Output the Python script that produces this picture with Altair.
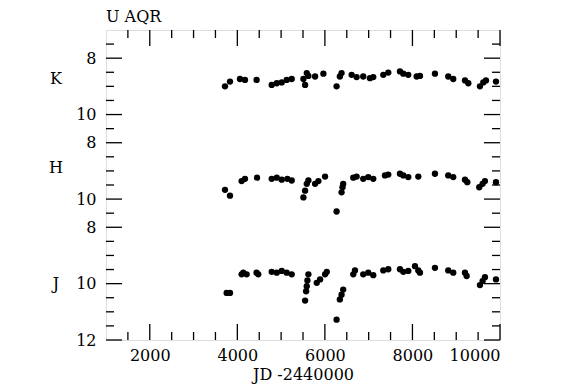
import altair as alt
import pandas as pd

# ---- data (JD - 2440000, magnitude) ----
jd_K = [3718, 3832, 4060, 4175, 4440, 4785, 4900, 5014, 5128, 5242, 5509, 5548, 5586, 5623, 5776, 5966,
        6267, 6342, 6381, 6611, 6725, 6876, 7029, 7105, 7334, 7448, 7715, 7791, 7905, 8096, 8172, 8514,
        8818, 8932, 9200, 9276, 9542, 9618, 9679, 9908]
mag_K = [9.00, 8.83, 8.74, 8.77, 8.77, 8.95, 8.89, 8.86, 8.77, 8.74, 8.74, 8.95, 8.53, 8.63, 8.65, 8.55,
         9.00, 8.65, 8.53, 8.59, 8.67, 8.65, 8.71, 8.67, 8.59, 8.51, 8.47, 8.55, 8.59, 8.65, 8.63, 8.55,
         8.65, 8.74, 8.79, 8.89, 9.00, 8.86, 8.79, 8.83]

jd_H = [3718, 3832, 4098, 4175, 4450, 4785, 4900, 5014, 5143, 5242, 5509, 5548, 5586, 5623, 5776, 5852,
        6004, 6267, 6381, 6403, 6418, 6648, 6725, 6876, 6990, 7105, 7372, 7448, 7715, 7791, 7905, 8134,
        8514, 8818, 8932, 9200, 9253, 9526, 9602, 9656, 9908]
mag_H = [9.67, 9.88, 9.36, 9.28, 9.24, 9.28, 9.24, 9.31, 9.28, 9.34, 9.94, 9.70, 9.46, 9.34, 9.46, 9.36,
         9.20, 10.44, 9.76, 9.58, 9.46, 9.24, 9.20, 9.28, 9.22, 9.28, 9.16, 9.13, 9.10, 9.16, 9.22, 9.20,
         9.10, 9.16, 9.22, 9.31, 9.40, 9.58, 9.46, 9.36, 9.40]

jd_J = [3756, 3832, 4098, 4136, 4212, 4440, 4478, 4785, 4900, 5014, 5128, 5242, 5548, 5571, 5586, 5601,
        5623, 5814, 5890, 6004, 6043, 6267, 6342, 6381, 6418, 6648, 6687, 6876, 6990, 7105, 7334, 7448,
        7715, 7791, 7905, 8058, 8134, 8172, 8514, 8818, 8932, 9200, 9238, 9542, 9602, 9656, 9908]
mag_J = [10.33, 10.33, 9.67, 9.61, 9.67, 9.61, 9.67, 9.58, 9.61, 9.55, 9.61, 9.67, 10.60, 10.27, 10.09, 9.89,
         9.67, 9.97, 9.85, 9.67, 9.58, 11.28, 10.56, 10.39, 10.21, 9.67, 9.53, 9.67, 9.61, 9.70, 9.53, 9.49,
         9.49, 9.58, 9.55, 9.38, 9.53, 9.61, 9.44, 9.53, 9.61, 9.61, 9.73, 10.05, 9.91, 9.77, 9.85]

bands = ["K", "H", "J"]
band_offset = [7, 4, 1]          # stacking offset of each band on the shared axis
band_label_mag = [8.75, 8.9, 10.0]

x_major = [2000, 4000, 6000, 8000, 10000]
x_minor = [1500, 2500, 3000, 3500, 4500, 5000, 5500, 6500, 7000, 7500, 8500, 9000, 9500]
y_major_pos = [1, 3, 4, 6, 7, 9, 11]
y_major_labels = ["8", "10", "8", "10", "8", "10", "12"]

FONT = "DejaVu Serif"
FS = 16
W, H = 394, 310

rows = []
for b, off, jds, mags in zip(bands, band_offset, [jd_K, jd_H, jd_J], [mag_K, mag_H, mag_J]):
    for j, m in zip(jds, mags):
        rows.append({"band": b, "jd": j, "u": m - off})
df = pd.DataFrame(rows)

lab_df = pd.DataFrame({"band": bands, "u": [m - o for m, o in zip(band_label_mag, band_offset)]})

y_minor_pos = [k * 0.5 for k in range(1, 22) if k * 0.5 not in y_major_pos]

xscale = alt.Scale(domain=[1000, 10000], nice=False, zero=False)
yscale = alt.Scale(domain=[0, 11], reverse=True, nice=False, zero=False)

label_expr = " : ".join(
    f"datum.value == {p} ? '{l}'" for p, l in zip(y_major_pos, y_major_labels)
) + " : ''"

xaxis = alt.Axis(values=x_major, title="JD -2440000", grid=False, domain=False,
                 tickSize=0, labelPadding=7, titlePadding=3, format="d",
                 labelFont=FONT, titleFont=FONT, labelFontSize=FS, titleFontSize=FS,
                 titleFontWeight="normal", labelColor="black", titleColor="black")
yaxis = alt.Axis(values=y_major_pos, labelExpr=label_expr, title=None, grid=False,
                 domain=False, tickSize=0, labelPadding=10, labelFont=FONT,
                 labelFontSize=FS, labelColor="black")

X = lambda: alt.X("jd:Q", scale=xscale, axis=xaxis)
Y = lambda: alt.Y("u:Q", scale=yscale, axis=yaxis)

points = alt.Chart(df).mark_circle(size=40, color="black", opacity=1).encode(x=X(), y=Y())

def xrules(vals, length):
    d = pd.DataFrame({"jd": vals})
    bot = alt.Chart(d).mark_rule(color="black", strokeWidth=1.3).encode(
        x=X(), y=alt.value(H), y2=alt.value(H - length))
    top = alt.Chart(d).mark_rule(color="black", strokeWidth=1.3).encode(
        x=X(), y=alt.value(0), y2=alt.value(length))
    return [bot, top]

def yrules(vals, length):
    d = pd.DataFrame({"u": vals})
    left = alt.Chart(d).mark_rule(color="black", strokeWidth=1.3).encode(
        y=Y(), x=alt.value(0), x2=alt.value(length))
    right = alt.Chart(d).mark_rule(color="black", strokeWidth=1.3).encode(
        y=Y(), x=alt.value(W), x2=alt.value(W - length))
    return [left, right]

band_text = alt.Chart(lab_df).mark_text(font=FONT, fontSize=FS, color="black", align="center",
                                         baseline="middle").encode(
    y=Y(), x=alt.value(-50), text="band:N")

title = alt.Chart(pd.DataFrame({"t": ["U AQR"]})).mark_text(
    font=FONT, fontSize=FS, color="black", align="left", baseline="alphabetic").encode(
    x=alt.value(0), y=alt.value(-8), text="t:N")

layers = [points] + xrules(x_major, 16) + xrules(x_minor, 8) + yrules(y_major_pos, 16) + \
         yrules(y_minor_pos, 8) + [band_text, title]

chart = alt.layer(*layers).properties(
    width=W, height=H,
    autosize=alt.AutoSizeParams(type="none"),
    padding={"left": 98, "top": 22, "right": 60, "bottom": 50},
).configure_view(stroke="black", strokeWidth=1.5).configure(background="white")

chart.save("out.html", embed_options={"renderer": "svg", "actions": False})
